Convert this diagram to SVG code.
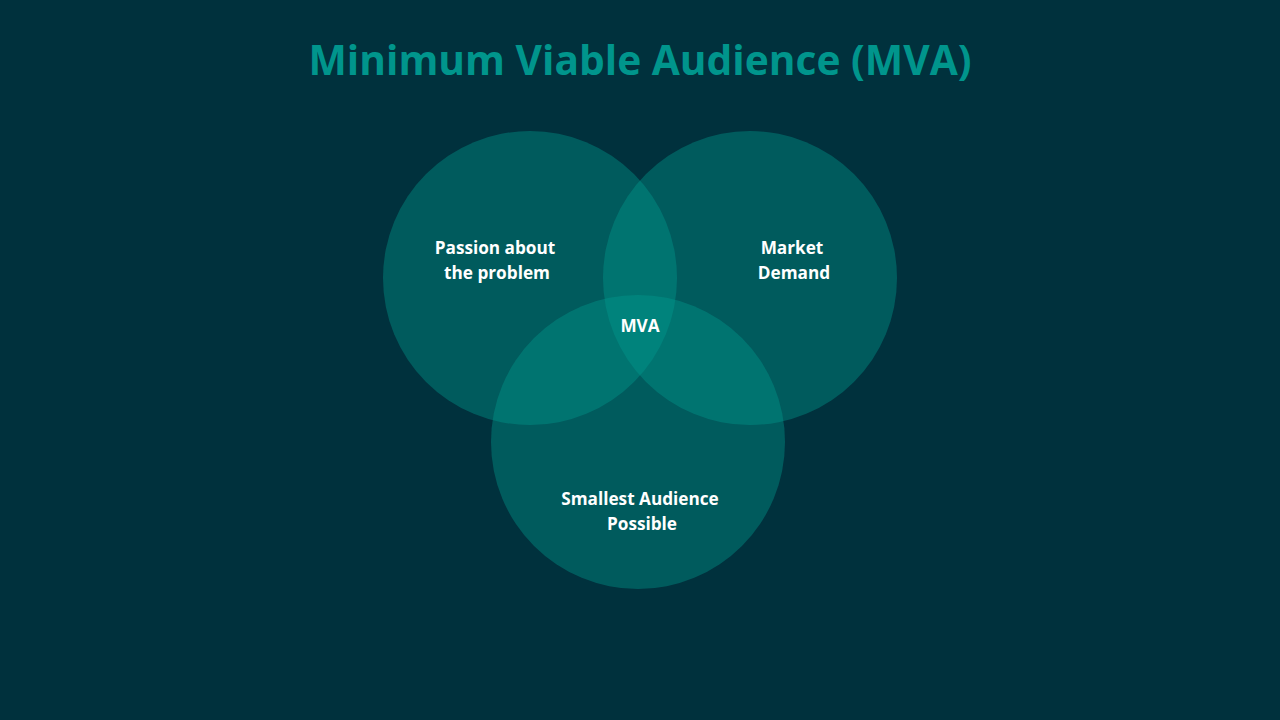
<svg xmlns="http://www.w3.org/2000/svg" width="1280" height="720" viewBox="0 0 1280 720">
<style>
.c{fill:rgb(0,154,143);fill-opacity:0.4}
.t{font-family:"Open Sans","Liberation Sans",sans-serif;font-weight:bold;font-size:17.2px;fill:#ffffff;text-anchor:middle}
.title{font-family:"Open Sans","Liberation Sans",sans-serif;font-weight:bold;font-size:40.7px;fill:#00958C;text-anchor:middle}
</style>
<rect width="1280" height="720" fill="#00313D"/>
<text class="title" x="640" y="75">Minimum Viable Audience (MVA)</text>
<g id="passion">
<circle class="c" cx="530" cy="278" r="147"/>
<text class="t" x="495" y="254">Passion about</text>
<text class="t" x="497" y="279">the problem</text>
</g>
<g id="market">
<circle class="c" cx="750" cy="278" r="147"/>
<text class="t" x="792" y="254">Market</text>
<text class="t" x="794" y="279">Demand</text>
</g>
<g id="smallest">
<circle class="c" cx="638" cy="442" r="147"/>
<text class="t" x="640" y="505">Smallest Audience</text>
<text class="t" x="642" y="530">Possible</text>
</g>
<g id="mva">
<text class="t" x="640" y="332">MVA</text>
</g>
<g id="connectors"></g>
</svg>
